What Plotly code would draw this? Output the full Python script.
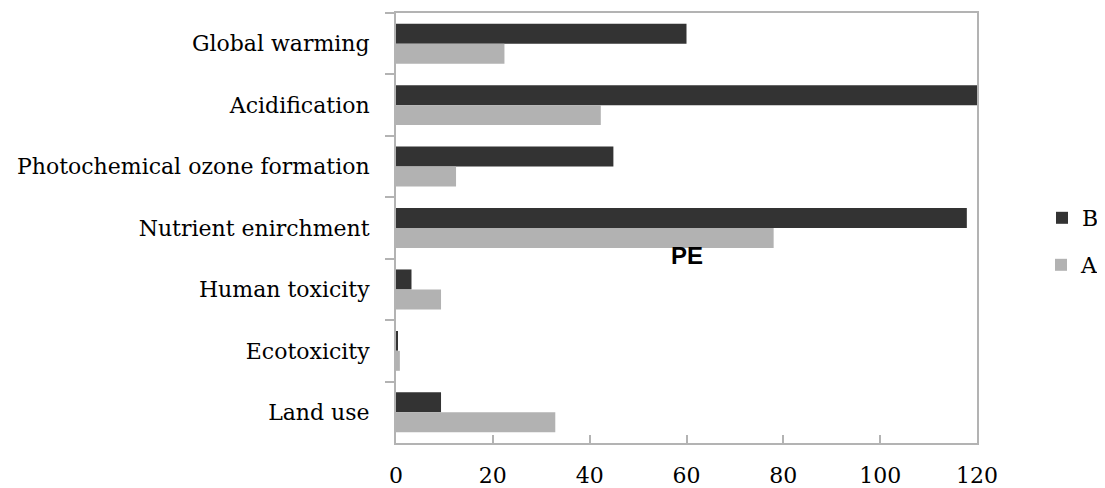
import plotly.graph_objects as go

categories = ["Global warming", "Acidification", "Photochemical ozone formation",
              "Nutrient enirchment", "Human toxicity", "Ecotoxicity", "Land use"]
series_b = [60, 120, 44.9, 117.9, 3.2, 0.3, 9.3]
series_a = [22.4, 42.3, 12.4, 78, 9.3, 0.8, 32.9]
x_ticks = [0, 20, 40, 60, 80, 100, 120]

SERIF = "DejaVu Serif"
AXIS_COLOR = "#b3b3b3"

# page has an 8px body margin; figure is sized/offset to compensate
W, H = 1097, 480
L, R, T, B = 388, 128, 5, 45
PH = H - T - B
PW = W - L - R

fig = go.Figure()
fig.add_trace(go.Bar(y=categories, x=series_b, orientation="h", name="B",
                     marker=dict(color="#333333", line=dict(width=0)), legend="legend"))
fig.add_trace(go.Bar(y=categories, x=series_a, orientation="h", name="A",
                     marker=dict(color="#b2b2b2", line=dict(width=0)), legend="legend2"))

legend_x = (W - L - 1) / PW

fig.update_layout(
    width=W, height=H,
    margin=dict(l=L, r=R, t=T, b=B, autoexpand=False),
    paper_bgcolor="white", plot_bgcolor="white",
    barmode="group", bargap=0.35, bargroupgap=0,
    font=dict(family=SERIF, size=22, color="#000000"),
    showlegend=True,
    legend=dict(x=legend_x, y=(H - B - 210) / PH, xanchor="right", yanchor="middle",
                font=dict(family=SERIF, size=22), bgcolor="rgba(0,0,0,0)",
                itemwidth=30),
    legend2=dict(x=legend_x, y=(H - B - 257) / PH, xanchor="right", yanchor="middle",
                 font=dict(family=SERIF, size=22), bgcolor="rgba(0,0,0,0)",
                 itemwidth=30),
    xaxis=dict(range=[0, 120], tickvals=x_ticks, ticktext=[str(v) for v in x_ticks],
               showgrid=False, zeroline=False, showline=True, linecolor=AXIS_COLOR,
               linewidth=2, mirror=True, ticks="inside", ticklen=8, tickwidth=2,
               tickcolor=AXIS_COLOR, ticklabelstandoff=12, automargin=False,
               tickfont=dict(family=SERIF, size=22)),
    yaxis=dict(categoryorder="array", categoryarray=categories, autorange="reversed",
               showgrid=False, zeroline=False, showline=True, linecolor=AXIS_COLOR,
               linewidth=2, mirror=True, ticks="outside", ticklen=9, tickwidth=2,
               tickcolor=AXIS_COLOR, tickson="boundaries", ticklabelstandoff=20,
               automargin=False, tickfont=dict(family=SERIF, size=22)),
    annotations=[dict(text="<b>PE</b>", x=60, y=(H - B - 247) / PH, xref="x", yref="paper",
                      showarrow=False, xanchor="center", yanchor="middle",
                      font=dict(family="Liberation Sans", size=24, color="#000000"))],
)

fig.write_html("out.html")
